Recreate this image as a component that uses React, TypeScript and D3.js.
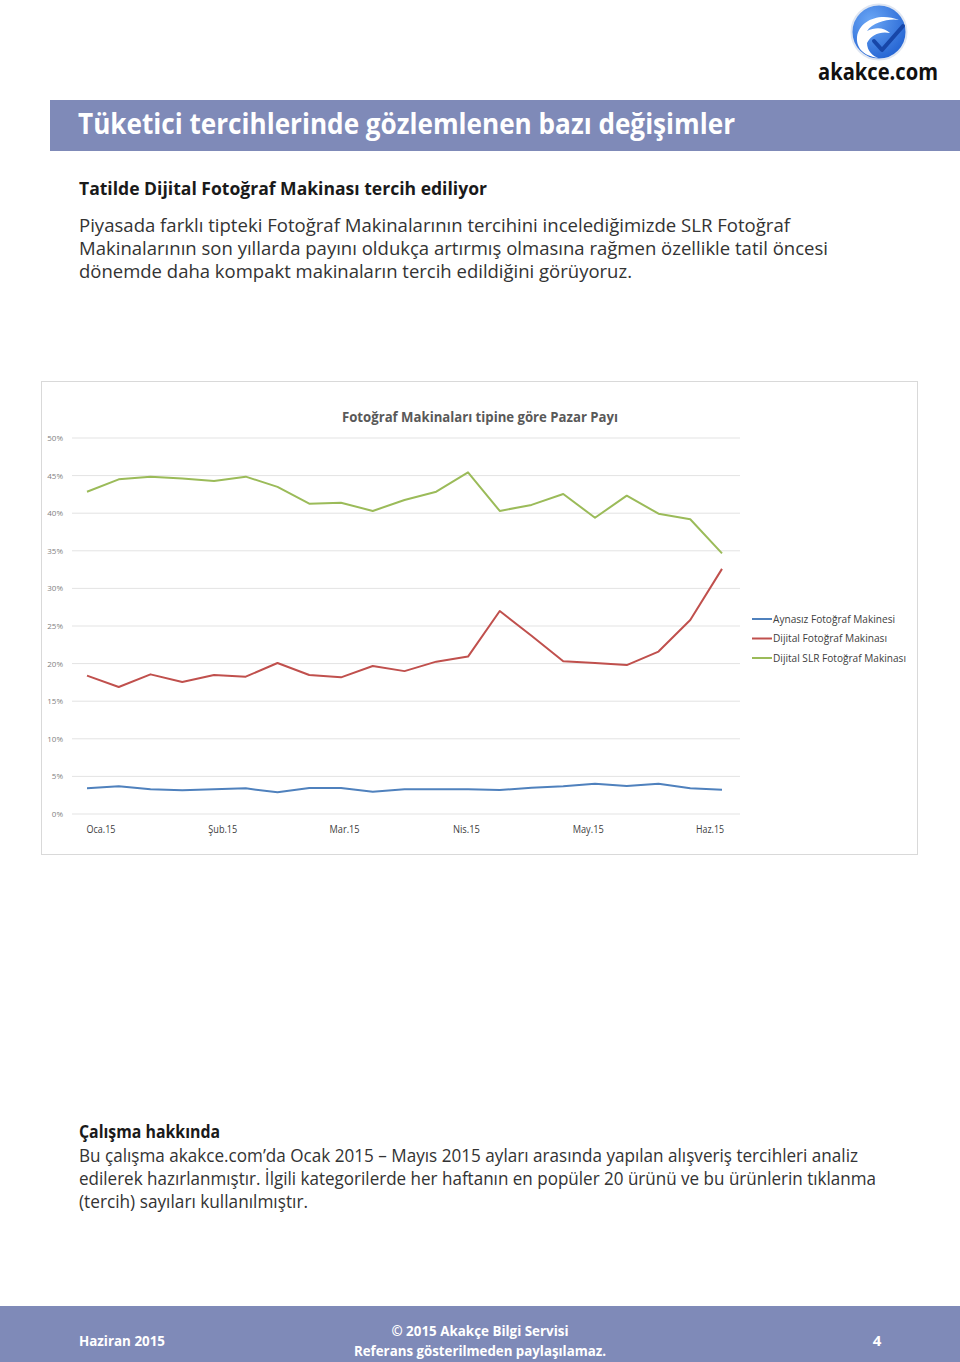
import React from "react";
import * as d3 from "d3";

const seriesNames = ["Aynasız Fotoğraf Makinesi", "Dijital Fotoğraf Makinası", "Dijital SLR Fotoğraf Makinası"];
const seriesColors = ["#4f81bd", "#c0504d", "#9bbb59"];

const aynasiz = [3.41, 3.68, 3.28, 3.15, 3.28, 3.41, 2.88, 3.46, 3.46, 2.97, 3.28, 3.28, 3.28, 3.19, 3.5, 3.68, 4.03, 3.72, 4.03, 3.41, 3.23];
const dijital = [18.4, 16.89, 18.57, 17.55, 18.48, 18.26, 20.08, 18.48, 18.17, 19.68, 19.0, 20.26, 20.93, 27.0, 23.7, 20.3, 20.08, 19.8, 21.6, 25.8, 32.6];
const slr = [42.86, 44.5, 44.86, 44.6, 44.28, 44.86, 43.5, 41.27, 41.4, 40.3, 41.75, 42.86, 45.43, 40.3, 41.1, 42.55, 39.4, 42.33, 39.94, 39.2, 34.66];
const monthLabels = ["Oca.15", "Şub.15", "Mar.15", "Nis.15", "May.15", "Haz.15"];
const yTicks = [0, 5, 10, 15, 20, 25, 30, 35, 40, 45, 50];

const headerColor = "#7f8ab8";
const FONT = "'Open Sans', 'DejaVu Sans', sans-serif";

type TProps = { x: number; y: number; w?: number; size: number; bold?: boolean; fill?: string; anchor?: string; children: React.ReactNode };
const T = ({ x, y, w, size, bold, fill = "#262626", anchor = "start", children }: TProps) => (
  <text
    x={x}
    y={y}
    fontSize={size}
    fontFamily={FONT}
    fontWeight={bold ? 700 : 400}
    fill={fill}
    textAnchor={anchor as any}
    {...(w ? { textLength: w, lengthAdjust: "spacingAndGlyphs" } : {})}
  >
    {children}
  </text>
);

export default function App() {
  const x = d3.scaleLinear().domain([0, aynasiz.length - 1]).range([87, 722]);
  const y = d3.scaleLinear().domain([0, 50]).range([814, 438]);
  const xl = d3.scalePoint<string>().domain(monthLabels).range([101, 710]);
  const line = d3
    .line<number>()
    .x((_, i) => x(i))
    .y((d) => y(d));
  const series = [aynasiz, dijital, slr];
  const labelWidths = [29, 29, 30, 27, 31, 28];
  const legendWidths = [122, 114, 133];

  return (
    <div style={{ position: "absolute", left: 0, top: 0 }}>
      <svg width={960} height={1362} style={{ display: "block", background: "#fff" }}>
        {/* Logo */}
        <defs>
          <radialGradient id="lg" cx="0.35" cy="0.3" r="0.8">
            <stop offset="0" stopColor="#6aa6f5" />
            <stop offset="1" stopColor="#1f5fd0" />
          </radialGradient>
        </defs>
        <circle cx={879} cy={32} r={27.5} fill="url(#lg)" stroke="#dfe6f2" strokeWidth={2} />
        <path d="M857,37 C859,20 880,12 899,20 C890,18 873,22 867,31 C875,27 884,27 890,33 C880,31 871,35 867,43 C867,51 873,56 878,58 C865,56 856,49 857,37 Z" fill="#fff" />
        <path d="M874,41 L882,50 L903,26" fill="none" stroke="#1746a8" strokeWidth={4} strokeLinecap="round" strokeLinejoin="round" />
        <T x={818} y={80} w={120} size={24} bold fill="#111">akakce.com</T>

        {/* Header */}
        <rect x={50} y={100} width={910} height={51} fill={headerColor} />
        <T x={78} y={134} w={657} size={28} bold fill="#fff">Tüketici tercihlerinde gözlemlenen bazı değişimler</T>

        <T x={79} y={195} w={408} size={18} bold fill="#1a1a1a">Tatilde Dijital Fotoğraf Makinası tercih ediliyor</T>
        <T x={79} y={232} w={711} size={18} fill="#333">Piyasada farklı tipteki Fotoğraf Makinalarının tercihini incelediğimizde SLR Fotoğraf</T>
        <T x={79} y={255} w={749} size={18} fill="#333">Makinalarının son yıllarda payını oldukça artırmış olmasına rağmen özellikle tatil öncesi</T>
        <T x={79} y={278} w={553} size={18} fill="#333">dönemde daha kompakt makinaların tercih edildiğini görüyoruz.</T>

        {/* Chart box */}
        <rect x={41.5} y={381.5} width={876} height={473} fill="#fff" stroke="#d9d9d9" strokeWidth={1} />
        <T x={480} y={422} w={276} size={14} bold fill="#595959" anchor="middle">Fotoğraf Makinaları tipine göre Pazar Payı</T>

        {yTicks.map((t) => (
          <g key={t}>
            <line x1={72} x2={740} y1={y(t)} y2={y(t)} stroke="#e3e3e3" strokeWidth={1} />
            <T x={63} y={y(t) + 3} size={8} fill="#7f7f7f" anchor="end">{t}%</T>
          </g>
        ))}

        {monthLabels.map((m, i) => (
          <T key={m} x={xl(m) as number} y={833} w={labelWidths[i]} size={10} fill="#404040" anchor="middle">{m}</T>
        ))}

        {series.map((s, i) => (
          <path key={i} d={line(s) as string} fill="none" stroke={seriesColors[i]} strokeWidth={2} strokeLinejoin="round" />
        ))}

        {seriesNames.map((n, i) => (
          <g key={n} transform={`translate(752, ${619 + i * 19.5})`}>
            <line x1={0} x2={20} y1={0} y2={0} stroke={seriesColors[i]} strokeWidth={2} />
            <T x={21} y={3.5} w={legendWidths[i]} size={10} fill="#404040">{n}</T>
          </g>
        ))}

        {/* About */}
        <T x={79} y={1138} w={141} size={18} bold fill="#1a1a1a">Çalışma hakkında</T>
        <T x={79} y={1162} w={779} size={18} fill="#333">Bu çalışma akakce.com’da Ocak 2015 – Mayıs 2015 ayları arasında yapılan alışveriş tercihleri analiz</T>
        <T x={79} y={1185} w={797} size={18} fill="#333">edilerek hazırlanmıştır. İlgili kategorilerde her haftanın en popüler 20 ürünü ve bu ürünlerin tıklanma</T>
        <T x={79} y={1208} w={229} size={18} fill="#333">(tercih) sayıları kullanılmıştır.</T>

        {/* Footer */}
        <rect x={0} y={1306} width={960} height={56} fill={headerColor} />
        <T x={79} y={1346} w={86} size={15} bold fill="#fff">Haziran 2015</T>
        <T x={480} y={1336} w={177} size={15} bold fill="#fff" anchor="middle">© 2015 Akakçe Bilgi Servisi</T>
        <T x={480} y={1356} w={252} size={15} bold fill="#fff" anchor="middle">Referans gösterilmeden paylaşılamaz.</T>
        <T x={877} y={1346} size={15} bold fill="#fff" anchor="middle">4</T>
      </svg>
    </div>
  );
}
